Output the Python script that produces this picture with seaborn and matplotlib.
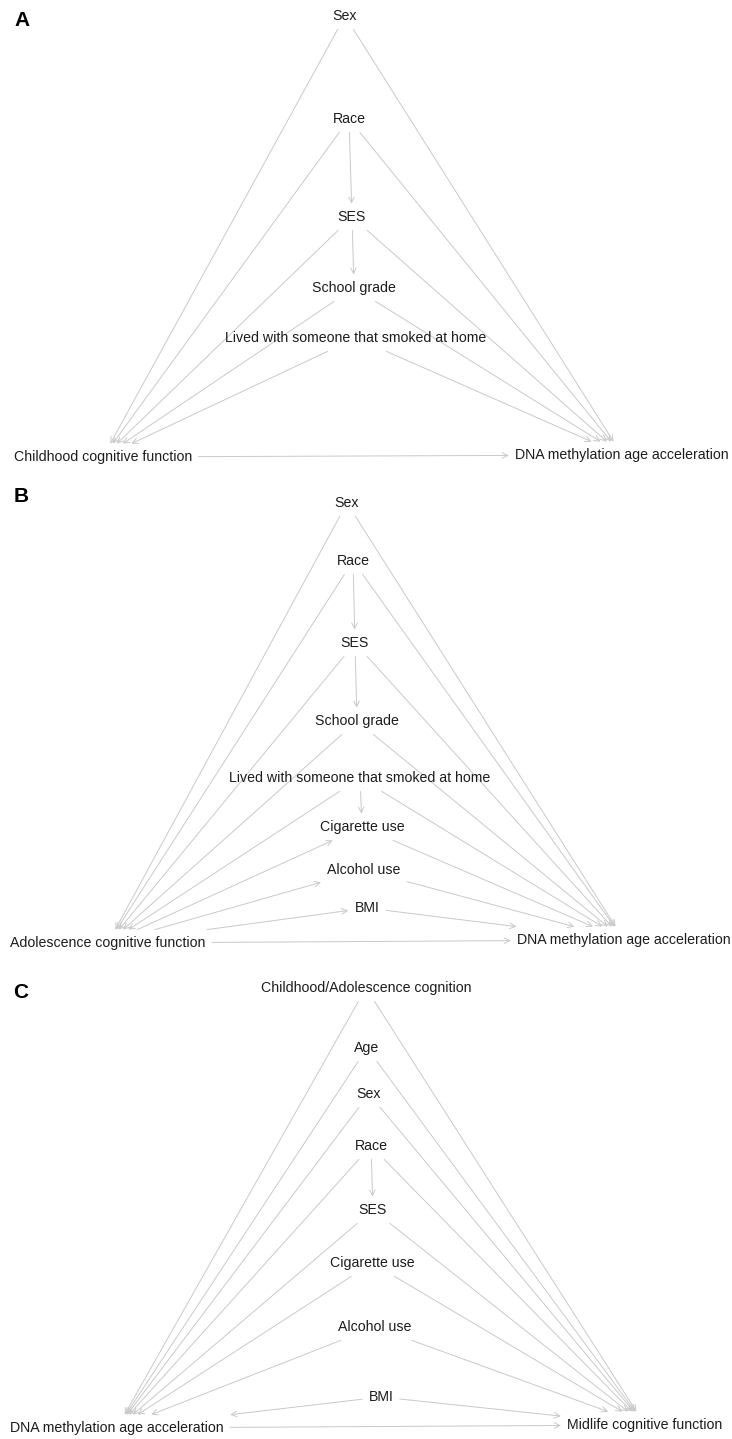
import matplotlib
matplotlib.use("Agg")
import matplotlib.pyplot as plt
from matplotlib.patches import FancyArrowPatch
import seaborn as sns

# Layout in figure pixel units (x right, y down)
W, H = 732, 1439
EDGE_COLOR = "#c9c9c9"
TEXT_COLOR = "#1c1c1c"

# Panel A
a_nodes = ["Sex", "Race", "SES", "School grade",
           "Lived with someone that smoked at home",
           "Childhood cognitive function", "DNA methylation age acceleration"]
a_x = [345, 349, 352, 354, 356, 103, 622]
a_y = [16, 119, 217, 288, 338, 457, 455]
a_edges = [
    ("Sex", "Childhood cognitive function"), ("Sex", "DNA methylation age acceleration"),
    ("Race", "SES"), ("Race", "Childhood cognitive function"), ("Race", "DNA methylation age acceleration"),
    ("SES", "School grade"), ("SES", "Childhood cognitive function"), ("SES", "DNA methylation age acceleration"),
    ("School grade", "Childhood cognitive function"), ("School grade", "DNA methylation age acceleration"),
    ("Lived with someone that smoked at home", "Childhood cognitive function"),
    ("Lived with someone that smoked at home", "DNA methylation age acceleration"),
    ("Childhood cognitive function", "DNA methylation age acceleration"),
]

# Panel B
b_nodes = ["Sex", "Race", "SES", "School grade",
           "Lived with someone that smoked at home", "Cigarette use", "Alcohol use", "BMI",
           "Adolescence cognitive function", "DNA methylation age acceleration"]
b_x = [347, 353, 355, 357, 360, 362, 364, 367, 108, 624]
b_y = [503, 561, 643, 721, 778, 827, 870, 908, 943, 940]
b_edges = [
    ("Sex", "Adolescence cognitive function"), ("Sex", "DNA methylation age acceleration"),
    ("Race", "SES"), ("Race", "Adolescence cognitive function"), ("Race", "DNA methylation age acceleration"),
    ("SES", "School grade"), ("SES", "Adolescence cognitive function"), ("SES", "DNA methylation age acceleration"),
    ("School grade", "Adolescence cognitive function"), ("School grade", "DNA methylation age acceleration"),
    ("Lived with someone that smoked at home", "Cigarette use"),
    ("Lived with someone that smoked at home", "Adolescence cognitive function"),
    ("Lived with someone that smoked at home", "DNA methylation age acceleration"),
    ("Adolescence cognitive function", "Cigarette use"),
    ("Adolescence cognitive function", "Alcohol use"),
    ("Adolescence cognitive function", "BMI"),
    ("Cigarette use", "DNA methylation age acceleration"),
    ("Alcohol use", "DNA methylation age acceleration"),
    ("BMI", "DNA methylation age acceleration"),
    ("Adolescence cognitive function", "DNA methylation age acceleration"),
]

# Panel C
c_nodes = ["Childhood/Adolescence cognition", "Age", "Sex", "Race", "SES",
           "Cigarette use", "Alcohol use", "BMI",
           "DNA methylation age acceleration", "Midlife cognitive function"]
c_x = [366, 367, 369, 371, 373, 372, 375, 381, 117, 645]
c_y = [988, 1048, 1094, 1146, 1210, 1263, 1327, 1397, 1428, 1425]
c_confounders = c_nodes[:8]
c_edges = ([(n, "DNA methylation age acceleration") for n in c_confounders]
           + [(n, "Midlife cognitive function") for n in c_confounders]
           + [("Race", "SES"),
              ("DNA methylation age acceleration", "Midlife cognitive function")])

panel_letters = ["A", "B", "C"]
letter_x = [22, 21, 21]
letter_y = [20, 497, 992]


def draw_dag(ax, nodes, xs, ys, edges):
    texts = {}
    for name, x, y in zip(nodes, xs, ys):
        texts[name] = ax.text(x, y, name, ha="center", va="center", fontsize=10.2,
                              color=TEXT_COLOR, zorder=3,
                              bbox=dict(boxstyle="square,pad=0.45", fc="none", ec="none"))
    for src, dst in edges:
        i, j = nodes.index(src), nodes.index(dst)
        arrow = FancyArrowPatch((xs[i], ys[i]), (xs[j], ys[j]),
                                patchA=texts[src].get_bbox_patch(),
                                patchB=texts[dst].get_bbox_patch(),
                                arrowstyle="->,head_length=0.4,head_width=0.2",
                                mutation_scale=10, color=EDGE_COLOR, lw=0.7,
                                shrinkA=0, shrinkB=0, zorder=1)
        ax.add_patch(arrow)


sns.set_theme(style="white")
plt.rcParams["font.family"] = ["Liberation Sans", "DejaVu Sans"]

fig = plt.figure(figsize=(W / 100, H / 100), dpi=100)
ax = fig.add_axes([0, 0, 1, 1])

draw_dag(ax, a_nodes, a_x, a_y, a_edges)
draw_dag(ax, b_nodes, b_x, b_y, b_edges)
draw_dag(ax, c_nodes, c_x, c_y, c_edges)

for letter, x, y in zip(panel_letters, letter_x, letter_y):
    ax.text(x, y, letter, ha="center", va="center", fontsize=15,
            fontweight="bold", color="black")

ax.set_xlim(0, W)
ax.set_ylim(H, 0)
ax.axis("off")

# first draw positions the label boxes used to clip the edges
fig.canvas.draw()
fig.savefig("out.png", dpi=100, facecolor="white")
